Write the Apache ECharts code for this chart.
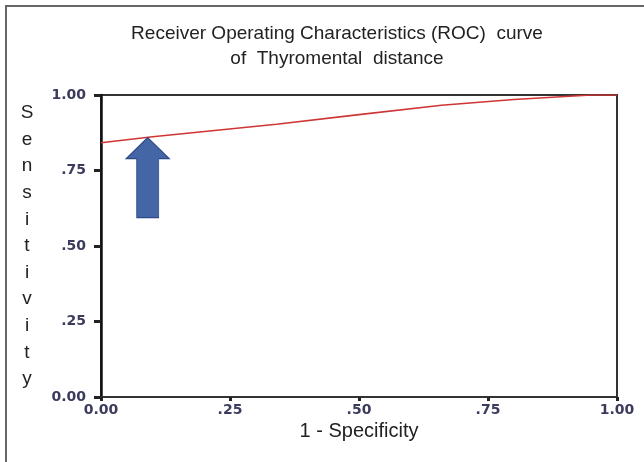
<!DOCTYPE html>
<html>
<head>
<meta charset="utf-8">
<script src="https://cdn.jsdelivr.net/npm/echarts@6/dist/echarts.min.js"></script>
<style>
html,body{margin:0;padding:0;background:#fff;}
#chart{width:644px;height:462px;}
</style>
</head>
<body>
<div id="chart"></div>
<script>
// ROC curve points: [1 - specificity, sensitivity]
const rocX = [0, 0.10, 0.34, 0.50, 0.66, 0.80, 0.95, 1.00];
const rocY = [0.842, 0.862, 0.903, 0.935, 0.966, 0.985, 1.00, 1.00];
const tickValues = [0, 0.25, 0.5, 0.75, 1];
const tickLabels = ['0.00', '.25', '.50', '.75', '1.00'];
const titleLines = ['Receiver Operating Characteristics (ROC)  curve', 'of  Thyromental  distance'];
const xName = '1 - Specificity';
const yName = 'Sensitivity';
// arrow annotation (data coords): tip point and tail point
const arrowTip = [0.0905, 0.859];
const arrowTail = [0.0905, 0.594];

const chart = echarts.init(document.getElementById('chart'), null, {renderer: 'canvas'});

function fmt(v) {
  const i = tickValues.findIndex(t => Math.abs(t - v) < 1e-9);
  return i >= 0 ? tickLabels[i] : '';
}

const tickStyle = {
  fontFamily: 'DejaVu Sans',
  fontWeight: 'bold',
  fontSize: 14,
  color: '#3b3b5e'
};

const option = {
  animation: false,
  backgroundColor: '#fff',
  title: {
    text: titleLines.join('\n'),
    left: 332,
    textAlign: 'center',
    top: 16,
    textStyle: {
      fontFamily: 'Liberation Sans',
      fontWeight: 'normal',
      fontSize: 19,
      lineHeight: 25,
      color: '#222'
    }
  },
  grid: {
    left: 101, top: 95, right: 27, bottom: 65,
    show: true, borderColor: '#333', borderWidth: 2, backgroundColor: 'transparent'
  },
  xAxis: {
    type: 'value', min: 0, max: 1, interval: 0.25,
    name: xName, nameLocation: 'middle', nameGap: 22,
    nameTextStyle: {fontFamily: 'Liberation Sans', fontSize: 20, color: '#222'},
    axisLine: {show: true, lineStyle: {color: '#333', width: 2}},
    axisTick: {show: true, length: 4, inside: false, lineStyle: {color: '#222', width: 3}},
    axisLabel: Object.assign({formatter: fmt, margin: 6}, tickStyle),
    splitLine: {show: false}
  },
  yAxis: {
    type: 'value', min: 0, max: 1, interval: 0.25,
    name: yName.split('').join('\n'), nameLocation: 'middle', nameGap: 74, nameRotate: 0,
    nameTextStyle: {fontFamily: 'Liberation Sans', fontSize: 19, color: '#222', lineHeight: 26.6, align: 'center', verticalAlign: 'middle', padding: [18, 0, 0, 0]},
    axisLine: {show: true, lineStyle: {color: '#111', width: 2.5}},
    axisTick: {show: true, length: 7, lineStyle: {color: '#222', width: 3}},
    axisLabel: Object.assign({formatter: fmt, margin: 15}, tickStyle),
    splitLine: {show: false}
  },
  graphic: [
    {type: 'line', shape: {x1: 5, y1: 6, x2: 644, y2: 6}, style: {stroke: '#666', lineWidth: 2}},
    {type: 'line', shape: {x1: 6, y1: 5, x2: 6, y2: 462}, style: {stroke: '#666', lineWidth: 2}}
  ],
  series: [{
    type: 'line',
    data: rocX.map((x, i) => [x, rocY[i]]),
    showSymbol: false,
    symbol: 'none',
    lineStyle: {color: '#d03535', width: 1.6},
    z: 3,
    markPoint: {
      symbol: 'path://M21.5,0 L43,21 L32.5,21 L32.5,80 L10.5,80 L10.5,21 L0,21 Z',
      symbolSize: [43, 80],
      symbolKeepAspect: false,
      label: {show: false},
      itemStyle: {color: '#4566a6', borderColor: '#2c4a85', borderWidth: 1},
      data: [{coord: [arrowTip[0], (arrowTip[1] + arrowTail[1]) / 2]}],
      silent: true
    }
  }]
};
chart.setOption(option);
</script>
</body>
</html>
